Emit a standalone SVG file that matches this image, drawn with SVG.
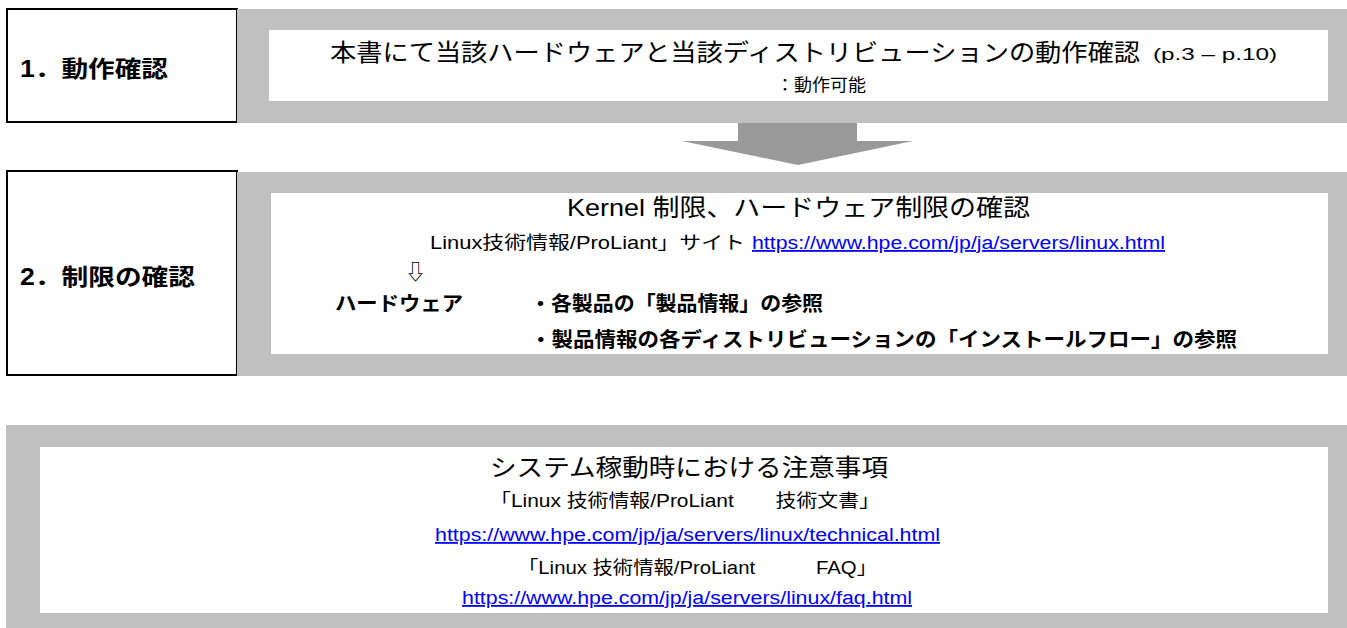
<svg xmlns="http://www.w3.org/2000/svg" width="1347" height="628" viewBox="0 0 1347 628">
<style>
.band{fill:#c0c0c0}
.inner{fill:#ffffff}
.box{fill:#ffffff;stroke:#000000;stroke-width:2}
.t{font-family:"Liberation Sans","Noto Sans CJK JP",sans-serif;fill:#000000}
.b{font-weight:bold}
.link{fill:#0000ff;text-decoration:underline}
.arrow{fill:#999999}
</style>
<rect width="1347" height="628" fill="#ffffff"/>
<g id="step1">
  <rect class="box" x="7" y="9" width="230" height="113"/>
  <text class="t b" x="20" y="77" font-size="23" textLength="148" lengthAdjust="spacingAndGlyphs">1．動作確認</text>
</g>
<g id="step1-detail">
  <rect class="band" x="237" y="9" width="1110" height="114"/>
  <rect class="inner" x="269" y="30" width="1059" height="71"/>
  <text class="t" x="330" y="61" font-size="24" textLength="810" lengthAdjust="spacingAndGlyphs">本書にて当該ハードウェアと当該ディストリビューションの動作確認</text>
  <text class="t" x="1153" y="60" font-size="17" textLength="124" lengthAdjust="spacingAndGlyphs">(p.3 – p.10)</text>
  <text class="t" x="776" y="91" font-size="17" textLength="90" lengthAdjust="spacingAndGlyphs">：動作可能</text>
</g>
<g id="connectors">
  <path class="arrow" d="M738,123 H857 V141 H913 L798,165 L682,141 H738 Z"/>
</g>
<g id="step2">
  <rect class="box" x="7" y="171" width="230" height="204"/>
  <text class="t b" x="20" y="285" font-size="23" textLength="175" lengthAdjust="spacingAndGlyphs">2．制限の確認</text>
</g>
<g id="step2-detail">
  <rect class="band" x="237" y="172" width="1110" height="204"/>
  <rect class="inner" x="271" y="193" width="1057" height="161"/>
  <text class="t" x="567" y="216" font-size="24" textLength="463" lengthAdjust="spacingAndGlyphs">Kernel 制限、ハードウェア制限の確認</text>
  <text class="t" x="430" y="249" font-size="18" textLength="315" lengthAdjust="spacingAndGlyphs">Linux技術情報/ProLiant」サイト</text>
  <text class="t link" x="752" y="249" font-size="18" textLength="413" lengthAdjust="spacingAndGlyphs">https://www.hpe.com/jp/ja/servers/linux.html</text>
  <text class="t" x="405" y="279" font-size="21" font-family="DejaVu Sans">⇩</text>
  <text class="t b" x="335" y="311" font-size="20" textLength="128" lengthAdjust="spacingAndGlyphs">ハードウェア</text>
  <text class="t b" x="530" y="311" font-size="20" textLength="293" lengthAdjust="spacingAndGlyphs">・各製品の「製品情報」の参照</text>
  <text class="t b" x="530" y="347" font-size="20" textLength="707" lengthAdjust="spacingAndGlyphs">・製品情報の各ディストリビューションの「インストールフロー」の参照</text>
</g>
<g id="notes">
  <rect class="band" x="6" y="425" width="1341" height="203"/>
  <rect class="inner" x="40" y="447" width="1288" height="166"/>
  <text class="t" x="490" y="476" font-size="24" textLength="398" lengthAdjust="spacingAndGlyphs">システム稼動時における注意事項</text>
  <text class="t" x="490" y="507" font-size="18" textLength="390" lengthAdjust="spacingAndGlyphs">「Linux 技術情報/ProLiant　　技術文書」</text>
  <text class="t link" x="435" y="541" font-size="18" textLength="505" lengthAdjust="spacingAndGlyphs">https://www.hpe.com/jp/ja/servers/linux/technical.html</text>
  <text class="t" x="518" y="574" font-size="18" textLength="359" lengthAdjust="spacingAndGlyphs">「Linux 技術情報/ProLiant　　　FAQ」</text>
  <text class="t link" x="462" y="604" font-size="18" textLength="450" lengthAdjust="spacingAndGlyphs">https://www.hpe.com/jp/ja/servers/linux/faq.html</text>
</g>
</svg>
